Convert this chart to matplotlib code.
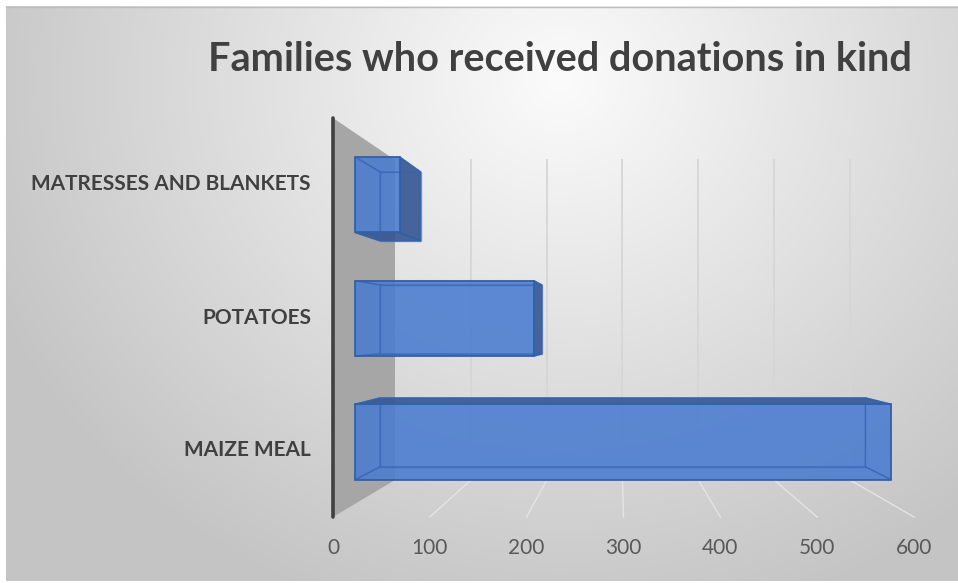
import numpy as np
import matplotlib.pyplot as plt
from matplotlib.patches import Polygon

categories = ["MAIZE MEAL", "POTATOES", "MATRESSES AND BLANKETS"]
values = [600, 200, 50]
ticks = [0, 100, 200, 300, 400, 500, 600]
title = "Families who received donations in kind"

W, H = 958, 583
vmax = 600
ncat = len(categories)

# pixel layout of the fake 3d box: front plane and back plane
front = dict(x0=333, x1=914, yb=517, yt=118)
back = dict(x0=395, x1=850, yb=480, yt=160)
t_front, t_back = 0.355, 0.76   # depth of bar faces (0 = front, 1 = back)
half_h = 0.305                 # half bar height in category units


def proj(v, c, t):
    xf = front["x0"] + (front["x1"] - front["x0"]) * v / vmax
    xb = back["x0"] + (back["x1"] - back["x0"]) * v / vmax
    yf = front["yb"] + (front["yt"] - front["yb"]) * c / ncat
    yb = back["yb"] + (back["yt"] - back["yb"]) * c / ncat
    return (xf + (xb - xf) * t, yf + (yb - yf) * t)


fig = plt.figure(figsize=(W / 100, H / 100), dpi=100)
ax = fig.add_axes([0, 0, 1, 1])
ax.set_xlim(0, W)
ax.set_ylim(H, 0)
ax.axis("off")

# background: white margin + radial grey gradient
xx, yy = np.meshgrid(np.arange(W), np.arange(H))
d = np.sqrt(((xx - 560) / 620.0) ** 2 + ((yy - 80) / 560.0) ** 2)
g = 0.985 - (0.985 - 0.77) * np.clip(d, 0, 1)
img = np.dstack([g, g, g])
img[:6, :, :] = 1.0
img[:, :6, :] = 1.0
img[581:, :, :] = 1.0
ax.imshow(img, extent=(0, W, H, 0), zorder=0, interpolation="bilinear")
ax.plot([6, W], [6.5, 6.5], color="#bdbdbd", lw=1, zorder=1)

# back wall gridlines and floor lines
for v in ticks[1:]:
    p0 = proj(v, 0, 1)
    p1 = proj(v, ncat, 1)
    ax.plot([p0[0], p1[0]], [p0[1], p1[1]], color="#d6d6d6", lw=1.3, zorder=2)
    f0 = proj(v, 0, 0)
    ax.plot([f0[0], p0[0]], [f0[1], p0[1]], color="#e4e4e4", lw=1.0, zorder=2)

# side wall at value 0
wall = [proj(0, 0, 0), proj(0, ncat, 0), proj(0, ncat, 1), proj(0, 0, 1)]
ax.add_patch(Polygon(wall, closed=True, facecolor="#a6a6a6", edgecolor="none", zorder=3))

face_col = "#4a7bd0"
side_col = "#34558f"
edge_col = "#3060a8"

for i, val in enumerate(values):
    c0, c1 = i + 0.5 - half_h, i + 0.5 + half_h
    P = {}
    for vs, v in (("l", 0), ("r", val)):
        for cs, c in (("b", c0), ("t", c1)):
            for ts, t in (("f", t_front), ("k", t_back)):
                P[vs + cs + ts] = proj(v, c, t)
    faces = {
        "back": ["lbk", "rbk", "rtk", "ltk"],
        "left": ["lbf", "ltf", "ltk", "lbk"],
        "right": ["rbf", "rtf", "rtk", "rbk"],
        "top": ["ltf", "rtf", "rtk", "ltk"],
        "bottom": ["lbf", "rbf", "rbk", "lbk"],
    }
    visible = {
        "back": False,
        "left": P["ltk"][0] < P["ltf"][0],
        "right": P["rtk"][0] > P["rtf"][0],
        "top": P["ltk"][1] < P["ltf"][1],
        "bottom": P["lbk"][1] > P["lbf"][1],
    }
    z = 4 + i * 0.1
    hidden = [k for k in faces if not visible[k]]
    for k in hidden:
        ax.add_patch(Polygon([P[n] for n in faces[k]], closed=True,
                             facecolor=face_col, alpha=0.2, edgecolor="none", zorder=z))
    for k in faces:
        if visible[k]:
            ax.add_patch(Polygon([P[n] for n in faces[k]], closed=True,
                                 facecolor=side_col, alpha=0.88, edgecolor=edge_col,
                                 lw=1.1, zorder=z + 0.02))
    fr = [P["lbf"], P["rbf"], P["rtf"], P["ltf"]]
    ax.add_patch(Polygon(fr, closed=True, facecolor=face_col, alpha=0.85,
                         edgecolor="none", zorder=z + 0.03))
    # inner edges seen through the transparent front
    for k in hidden:
        ax.add_patch(Polygon([P[n] for n in faces[k]], closed=True, fill=False,
                             edgecolor="#3563b5", alpha=0.55, lw=1.0, zorder=z + 0.04))
    ax.add_patch(Polygon(fr, closed=True, fill=False, edgecolor=edge_col,
                         lw=1.2, zorder=z + 0.05))

# value axis line at front
a0 = proj(0, 0, 0)
a1 = proj(0, ncat, 0)
ax.plot([a0[0], a1[0]], [a0[1], a1[1]], color="#404040", lw=2.6, zorder=6,
        solid_capstyle="round")

# tick labels
for v in ticks:
    x, y = proj(v, 0, 0)
    ax.text(x, 548, str(v), ha="center", va="center", fontsize=15,
            family="Lato", color="#595959", zorder=7)

# category labels
for i, name in enumerate(categories):
    x, y = proj(0, i + 0.5, 0)
    ax.text(311, y, name, ha="right", va="center", fontsize=15,
            family="Lato", fontweight="bold", color="#404040", zorder=7)

ax.text(560, 71, title, ha="center", va="baseline", fontsize=28.5,
        family="Lato", fontweight="bold", color="#404040", zorder=7)

fig.savefig("out.png", dpi=100)
